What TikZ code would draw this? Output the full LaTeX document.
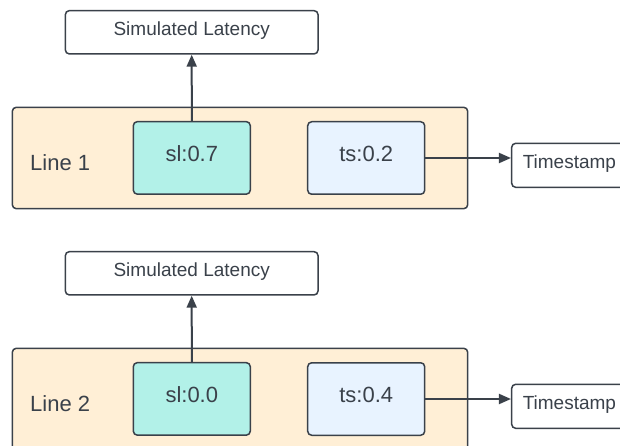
\documentclass[tikz,border=0pt]{standalone}
\usepackage{fontspec}
\setmainfont{Liberation Sans}
\usetikzlibrary{arrows.meta}
\definecolor{ink}{HTML}{3A414A}
\definecolor{linefill}{HTML}{FFEFD6}
\definecolor{slfill}{HTML}{B2F1E8}
\definecolor{tsfill}{HTML}{E8F3FF}
\tikzset{
  box/.style={draw=ink, line width=1.5pt, rounded corners=4pt, inner sep=0pt,
    text=ink, text height=0.72em, text depth=0.05em},
  outbox/.style={box, fill=white, font=\fontsize{19}{22}\selectfont},
  linebox/.style={box, fill=linefill},
  valbox/.style={box, font=\fontsize{22}{26}\selectfont,
    minimum width=117pt, minimum height=72.5pt},
  slbox/.style={valbox, fill=slfill},
  tsbox/.style={valbox, fill=tsfill},
  linelabel/.style={inner sep=0pt, text=ink, text depth=0pt,
    font=\fontsize{22}{26}\selectfont, anchor=west},
  link/.style={draw=ink, line width=2pt, -{Triangle[length=12pt,width=10pt]}}
}
\begin{document}
\begin{tikzpicture}[x=1pt, y=-1pt]
\useasboundingbox (0,0) rectangle (620,446);
\clip (0,0) rectangle (620,446);
% two identical rows, the second shifted down
\foreach \n/\dy/\sl/\ts in {1/0/0.7/0.2, 2/241/0.0/0.4}{
  \node[outbox, minimum width=252.7pt, minimum height=43.3pt]
    (sim\n) at (191.7, 32.3+\dy) {Simulated Latency};
  \node[linebox, minimum width=455.4pt, minimum height=101.4pt]
    (line\n) at (240, 158+\dy) {};
  \node[linelabel] (lab\n) at (30, 163+\dy) {Line \n};
  \node[slbox] (sl\n) at (191.8, 157.9+\dy) {sl:\sl};
  \node[tsbox] (ts\n) at (366.2, 158+\dy) {ts:\ts};
  \node[outbox, minimum width=115.4pt, minimum height=44pt]
    (out\n) at (569.4, 165.3+\dy) {Timestamp};
  \draw[link] (sl\n.north) -- (sim\n.south);
  \draw[link] (ts\n.east) -- (ts\n.east -| out\n.west);
}
\end{tikzpicture}
\end{document}
